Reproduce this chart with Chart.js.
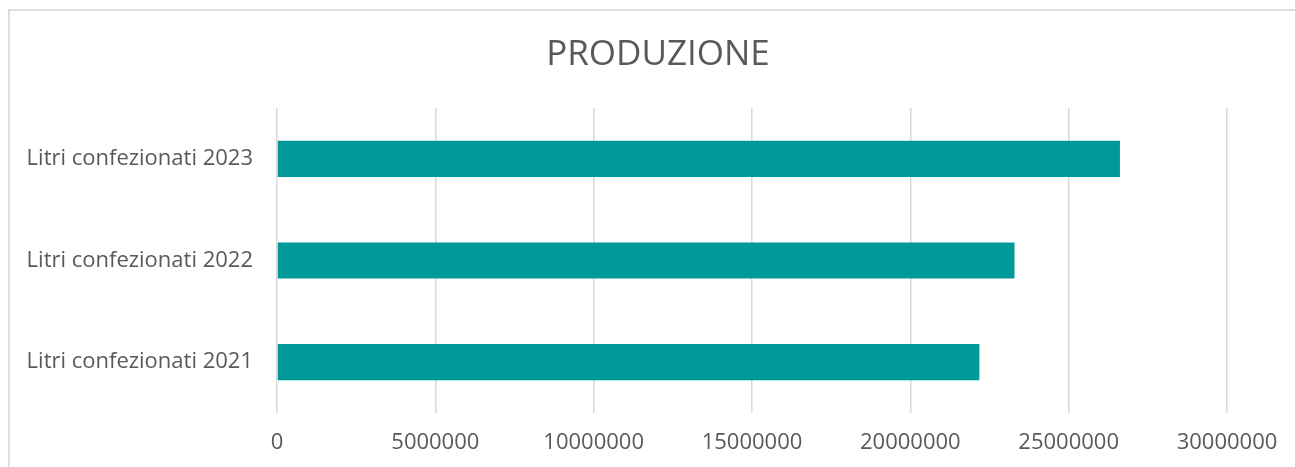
<!DOCTYPE html>
<html>
<head>
<meta charset="utf-8">
<script src="https://cdn.jsdelivr.net/npm/chart.js@4/dist/chart.umd.min.js"></script>
<style>
  html, body { margin: 0; padding: 0; background: #ffffff; }
  #wrap { position: relative; width: 1295px; height: 467px; overflow: hidden; }
  #frame { position: absolute; left: 8px; top: 9px; width: 1400px; height: 500px;
           border-left: 2px solid #dedede; border-top: 2px solid #dedede; box-sizing: border-box; }
  canvas { position: absolute; left: 0; top: 0; }
  #title { position: absolute; left: 458px; width: 400px; top: 30px; height: 44px; line-height: 44px;
           text-align: center; font-family: "Open Sans", "Liberation Sans", Arial, sans-serif;
           font-size: 35px; color: #595959; font-weight: normal; white-space: nowrap; }
</style>
</head>
<body>
<div id="wrap">
  <div id="frame"></div>
  <canvas id="c" width="1295" height="467"></canvas>
  <div id="title"></div>
</div>
<script>
const chartTitle = 'PRODUZIONE';
const categories = ['Litri confezionati 2021', 'Litri confezionati 2022', 'Litri confezionati 2023'];
const litri = [22180000, 23290000, 26620000];
const xTicks = [0, 5000000, 10000000, 15000000, 20000000, 25000000, 30000000];

const textColor = '#595959';
const fontFamily = '"Open Sans", "Liberation Sans", Arial, sans-serif';

document.getElementById('title').textContent = chartTitle;

new Chart(document.getElementById('c'), {
  type: 'bar',
  data: {
    labels: categories,
    datasets: [{
      data: litri,
      backgroundColor: '#009999',
      borderWidth: 0,
      barPercentage: 0.355,
      categoryPercentage: 1.0
    }]
  },
  options: {
    indexAxis: 'y',
    responsive: false,
    animation: false,
    devicePixelRatio: 1,
    layout: { padding: { left: 0, right: 68, top: 108, bottom: 0 } },
    plugins: {
      legend: { display: false },
      tooltip: { enabled: false },
      title: { display: false }
    },
    scales: {
      x: {
        min: xTicks[0],
        max: xTicks[xTicks.length - 1],
        afterBuildTicks: (scale) => { scale.ticks = xTicks.map(v => ({ value: v })); },
        ticks: {
          color: textColor,
          font: { family: fontFamily, size: 22 },
          padding: 17,
          maxRotation: 0,
          callback: (v) => String(v)
        },
        grid: { color: '#d9d9d9', lineWidth: 1.5, drawTicks: false },
        border: { display: false },
        afterFit: (scale) => { scale.height = 54; }
      },
      y: {
        reverse: true,
        ticks: {
          color: textColor,
          font: { family: fontFamily, size: 22 },
          padding: 24
        },
        grid: { display: false, drawTicks: false },
        border: { display: false },
        afterFit: (scale) => { scale.width = 277; }
      }
    }
  }
});
</script>
</body>
</html>
